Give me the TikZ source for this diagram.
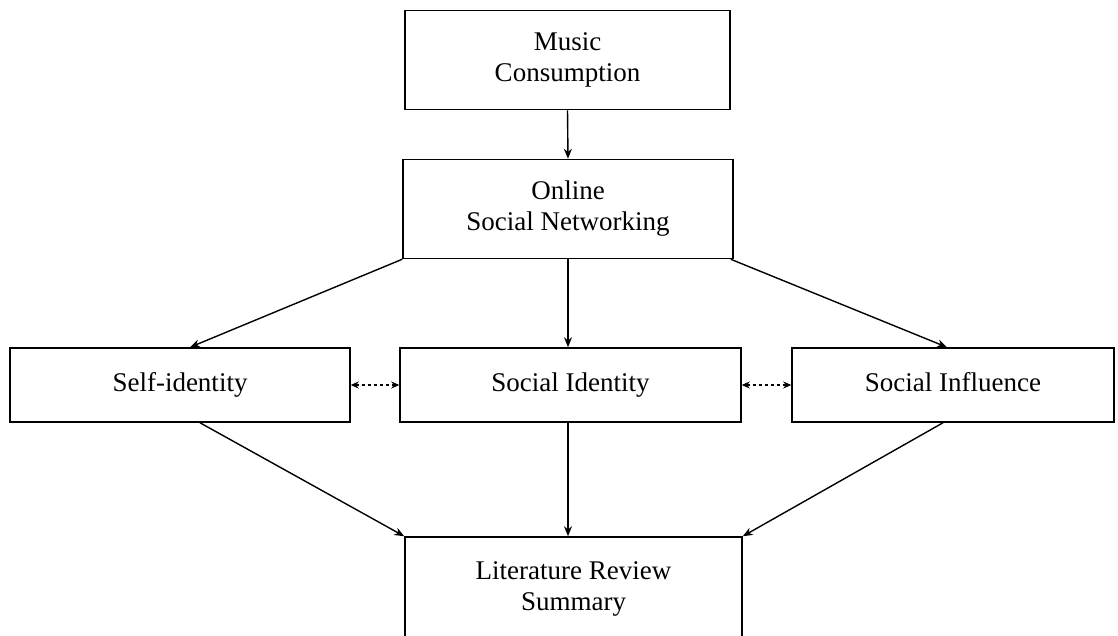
\documentclass[tikz,border=0pt]{standalone}
\usepackage{fontspec}
\setmainfont{Liberation Serif}
\usetikzlibrary{arrows.meta}
\begin{document}
\begin{tikzpicture}[x=1pt,y=-1pt,
  box/.style={draw=black,line width=1.5pt,fill=white,align=center,inner sep=0pt,
    font=\fontsize{27}{31}\selectfont},
  one/.style={text height=19pt,text depth=6pt},
  link/.style={draw=black,line width=1.4pt,-{Stealth[length=10pt,width=8pt]}},
  peer/.style={draw=black,line width=1.4pt,dash pattern=on 3.5pt off 2.5pt,
    {Stealth[length=8pt,width=7pt]}-{Stealth[length=8pt,width=7pt]}}]
\clip (0,0) rectangle (1118,635);
\fill[white] (0,0) rectangle (1118,635);

\node[box,minimum width=325pt,minimum height=99pt] (music) at (567.5,60) {Music\\Consumption};
\node[box,minimum width=330pt,minimum height=99pt] (online) at (568,209) {Online\\Social Networking};
\node[box,one,minimum width=340pt,minimum height=74pt] (self) at (180,385) {Self-identity};
\node[box,one,minimum width=341pt,minimum height=74pt] (social) at (570.5,385) {Social Identity};
\node[box,one,minimum width=322pt,minimum height=74pt] (infl) at (953,385) {Social Influence};
\node[box,minimum width=337pt,minimum height=136pt] (lit) at (573.5,605) {};
\node[font=\fontsize{27}{31}\selectfont,align=center,anchor=north] (littext) at ([yshift=-22pt]lit.north) {Literature Review\\Summary};

\draw[link] (music.south) -- (online.north);
\draw[link] (online.south west) -- ([xshift=10pt]self.north);
\draw[link] (online.south) -- (social.north -| online.south);
\draw[link] ([xshift=-3pt]online.south east) -- ([xshift=-6pt]infl.north);
\draw[link] ([xshift=20pt]self.south) -- (lit.north west);
\draw[link] (social.south -| online.south) -- (lit.north -| online.south);
\draw[link] ([xshift=-10pt]infl.south) -- (lit.north east);
\draw[peer] (self.east) -- (social.west);
\draw[peer] (social.east) -- (infl.west);
\end{tikzpicture}
\end{document}
